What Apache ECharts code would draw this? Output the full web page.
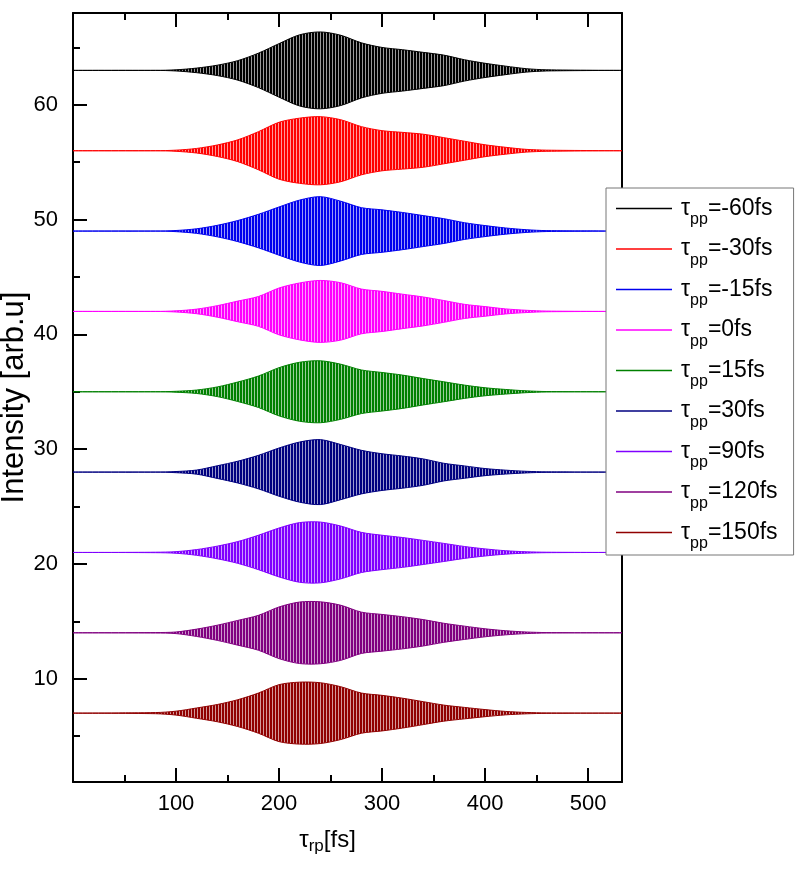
<!DOCTYPE html>
<html>
<head>
<meta charset="utf-8">
<script src="https://cdn.jsdelivr.net/npm/echarts@6/dist/echarts.min.js"></script>
</head>
<body style="margin:0;background:#fff">
<div id="main" style="width:805px;height:869px;"></div>
<script type="text/javascript">
var tauRp = [0, 80, 100, 120, 140, 160, 180, 200, 220, 240, 260, 280, 300, 320, 340, 360, 380, 400, 420, 440, 460, 533];

// pump-probe delays (legend) and the offset of each trace
var tauPP = [-60, -30, -15, 0, 15, 30, 90, 120, 150];
var offsets = [63, 56, 49, 42, 35, 28, 21, 14, 7];
var colors = ['#000000', '#ff0000', '#0000ee', '#ff00ff', '#008000', '#000080', '#8000ff', '#800080', '#900000'];

// half amplitude of the fast oscillation, per trace, at tauRp
var ampM60 = [0, 0, 0.05, 0.2, 0.45, 0.85, 1.5, 2.33, 3.1, 3.35, 3.06, 2.4, 2.0, 1.8, 1.57, 1.33, 0.93, 0.62, 0.37, 0.15, 0.05, 0];
var ampM30 = [0, 0, 0.05, 0.2, 0.5, 0.95, 1.66, 2.48, 2.84, 2.97, 2.7, 2.1, 1.75, 1.6, 1.44, 1.14, 0.83, 0.52, 0.3, 0.12, 0.05, 0];
var ampM15 = [0, 0, 0.05, 0.2, 0.5, 0.92, 1.46, 2.1, 2.7, 3.0, 2.6, 2.04, 1.85, 1.62, 1.35, 1.08, 0.73, 0.48, 0.27, 0.12, 0.04, 0];
var amp0 = [0, 0, 0.05, 0.2, 0.5, 0.9, 1.3, 2.04, 2.48, 2.7, 2.5, 1.95, 1.75, 1.5, 1.26, 0.95, 0.62, 0.42, 0.22, 0.1, 0.03, 0];
var amp15 = [0, 0, 0.04, 0.15, 0.42, 0.85, 1.37, 2.1, 2.57, 2.7, 2.4, 1.9, 1.68, 1.45, 1.15, 0.87, 0.58, 0.35, 0.2, 0.08, 0.02, 0];
var amp30 = [0, 0, 0.05, 0.18, 0.55, 0.95, 1.46, 2.1, 2.62, 2.83, 2.4, 1.9, 1.6, 1.4, 1.15, 0.77, 0.54, 0.31, 0.17, 0.07, 0.02, 0];
var amp90 = [0, 0.02, 0.07, 0.25, 0.55, 0.95, 1.5, 2.13, 2.6, 2.65, 2.3, 1.75, 1.5, 1.3, 1.05, 0.79, 0.52, 0.31, 0.15, 0.06, 0.02, 0];
var amp120 = [0, 0.02, 0.07, 0.32, 0.66, 1.08, 1.52, 2.25, 2.68, 2.7, 2.4, 1.8, 1.6, 1.4, 1.15, 0.83, 0.58, 0.35, 0.18, 0.07, 0.02, 0];
var amp150 = [0, 0.05, 0.17, 0.45, 0.75, 1.17, 1.75, 2.48, 2.7, 2.65, 2.3, 1.75, 1.55, 1.3, 1.0, 0.7, 0.5, 0.31, 0.15, 0.06, 0.02, 0];
var amps = [ampM60, ampM30, ampM15, amp0, amp15, amp30, amp90, amp120, amp150];

// axis ticks
var xMajor = [100, 200, 300, 400, 500];
var xMinor = [50, 150, 250, 350, 450];
var yMajor = [10, 20, 30, 40, 50, 60];
var yMinor = [5, 15, 25, 35, 45, 55, 65];

var FONT = 'Liberation Sans';

// vertical stripes so the band looks like the dense oscillation
function stripes(color) {
    var c = document.createElement('canvas');
    c.width = 3; c.height = 4;
    var ctx = c.getContext('2d');
    ctx.fillStyle = color;
    ctx.fillRect(0, 0, 2, 4);
    ctx.globalAlpha = 0.4;
    ctx.fillRect(2, 0, 1, 4);
    return { image: c, repeat: 'repeat' };
}

function bandRenderer(color) {
    var pattern = stripes(color);
    return function (params, api) {
        if (params.dataIndex !== 0) return;
        var up = [], lo = [];
        for (var j = 0; j < params.dataInsideLength; j++) {
            up.push(api.coord([api.value(0, j), api.value(1, j)]));
            lo.push(api.coord([api.value(0, j), api.value(2, j)]));
        }
        return {
            type: 'group',
            children: [
                { type: 'polygon', shape: { points: up.concat(lo.slice().reverse()), smooth: 0.3 }, style: { fill: pattern, stroke: null } },
                { type: 'polyline', shape: { points: up, smooth: 0.3 }, style: { stroke: color, lineWidth: 1, fill: null } },
                { type: 'polyline', shape: { points: lo, smooth: 0.3 }, style: { stroke: color, lineWidth: 1, fill: null } }
            ]
        };
    };
}

function traceName(i) {
    return 'τpp=' + tauPP[i] + 'fs';
}

var series = [];
for (var i = 0; i < tauPP.length; i++) {
    var data = [];
    for (var j = 0; j < tauRp.length; j++) {
        data.push([tauRp[j], offsets[i] + amps[i][j], offsets[i] - amps[i][j]]);
    }
    series.push({
        name: traceName(i),
        type: 'custom',
        renderItem: bandRenderer(colors[i]),
        encode: { x: 0, y: [1, 2] },
        itemStyle: { color: colors[i] },
        clip: true,
        silent: true,
        data: data
    });
}

function xAx(pos, ticks, len, labels, line) {
    return {
        type: 'value', position: pos, min: 0, max: 533,
        axisLine: { show: line, onZero: false, lineStyle: { color: '#000', width: 2 } },
        axisTick: { inside: true, length: len, customValues: ticks, lineStyle: { color: '#000', width: 2 } },
        axisLabel: labels ? { customValues: ticks, fontSize: 22, color: '#000', margin: 11, fontFamily: FONT } : { show: false },
        splitLine: { show: false }
    };
}
function yAx(pos, ticks, len, labels, line) {
    return {
        type: 'value', position: pos, min: 1, max: 68,
        axisLine: { show: line, onZero: false, lineStyle: { color: '#000', width: 2 } },
        axisTick: ticks ? { inside: true, length: len, customValues: ticks, lineStyle: { color: '#000', width: 2 } } : { show: false },
        axisLabel: labels ? { customValues: ticks, fontSize: 22, color: '#000', margin: 15, fontFamily: FONT } : { show: false },
        splitLine: { show: false }
    };
}

var xMain = xAx('bottom', xMajor, 14, true, true);
xMain.name = '{t|τ}{s|rp}{t|[fs]}';
xMain.nameLocation = 'middle';
xMain.nameGap = 43;
xMain.nameMoveOverlap = false;
xMain.nameTextStyle = {
    padding: [0, 40, 0, 0],
    rich: {
        t: { fontSize: 24, fontFamily: FONT, color: '#000', lineHeight: 30 },
        s: { fontSize: 17, fontFamily: FONT, color: '#000', verticalAlign: 'bottom' }
    }
};

var yMain = yAx('left', yMajor, 14, true, true);
yMain.name = 'Intensity [arb.u]';
yMain.nameLocation = 'middle';
yMain.nameGap = 43;
yMain.nameMoveOverlap = false;
yMain.nameTextStyle = { fontSize: 31, fontFamily: FONT, color: '#000' };

var option = {
    animation: false,
    textStyle: { fontFamily: FONT },
    grid: { left: 73, top: 13, width: 549, height: 769, containLabel: false, outerBoundsMode: 'none' },
    xAxis: [xMain, xAx('bottom', xMinor, 7, false, false), xAx('top', xMajor, 14, false, true), xAx('top', xMinor, 7, false, false)],
    yAxis: [yMain, yAx('left', yMinor, 7, false, false), yAx('right', null, 0, false, true)],
    legend: {
        orient: 'vertical',
        left: 606,
        top: 188,
        padding: [9, 16, 3, 10],
        backgroundColor: '#fff',
        borderColor: '#777',
        borderWidth: 1,
        itemWidth: 56,
        itemHeight: 1.6,
        itemGap: 9.5,
        icon: 'rect',
        data: tauPP.map(function (v, i) { return traceName(i); }),
        formatter: function (name) {
            return '{t|τ}{s|pp}{t|' + name.slice(3) + '}';
        },
        textStyle: {
            padding: [0, 0, 0, 4],
            rich: {
                t: { fontSize: 23, fontFamily: FONT, color: '#000' },
                s: { fontSize: 16, fontFamily: FONT, color: '#000', verticalAlign: 'bottom', padding: [23, 0, 0, 0] }
            }
        }
    },
    series: series
};

var myChart = echarts.init(document.getElementById('main'));
myChart.setOption(option);
</script>
</body>
</html>
